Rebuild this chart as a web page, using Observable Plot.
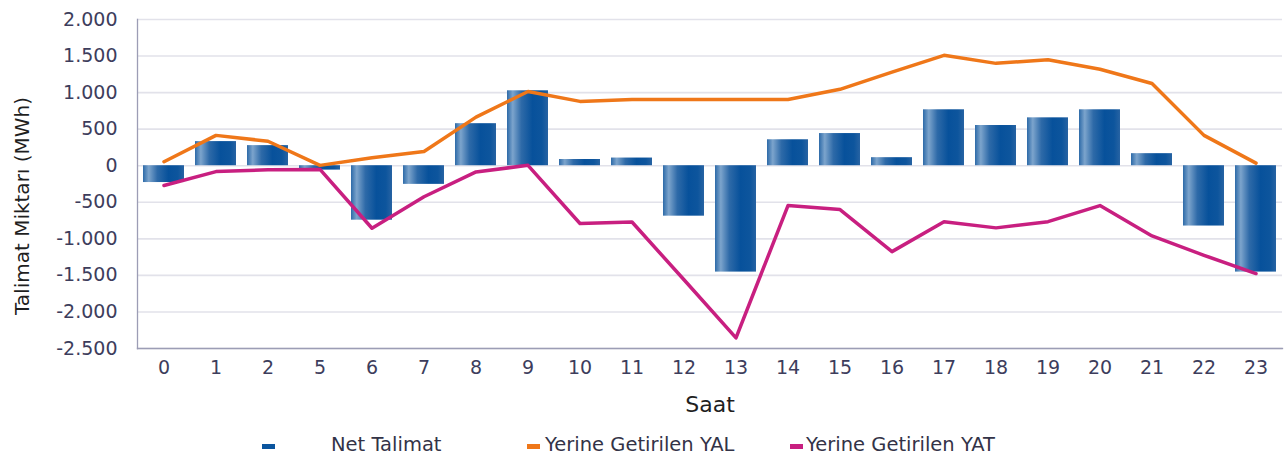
<!DOCTYPE html>
<html>
<head>
<meta charset="utf-8">
<script src="https://cdn.jsdelivr.net/npm/d3@7"></script>
<script src="https://cdn.jsdelivr.net/npm/@observablehq/plot@0.6"></script>
<style>
  body { margin: 0; background: #fff; font-family: "DejaVu Sans", sans-serif; }
  #wrap { position: relative; width: 1285px; height: 460px; overflow: hidden; }
  #legend { position: absolute; left: 0; top: 425px; width: 1285px; height: 35px; font-size: 19.5px; color: #333347; }
  .sw { position: absolute; width: 13px; height: 5px; top: 19px; }
  .lt { position: absolute; top: 8px; white-space: nowrap; }
</style>
</head>
<body>
<div id="wrap">
  <div id="chart"></div>
  <div id="legend"></div>
</div>
<script>
const hours = ["0","1","2","5","6","7","8","9","10","11","12","13","14","15","16","17","18","19","20","21","22","23"];
const netTalimat = [-230, 330, 275, -60, -745, -255, 575, 1025, 85, 105, -690, -1455, 355, 440, 110, 765, 550, 655, 765, 165, -825, -1455];
const yerineYAL = [55, 415, 335, 5, 110, 195, 665, 1015, 880, 905, 905, 905, 905, 1045, 1280, 1510, 1400, 1450, 1320, 1125, 415, 35];
const yerineYAT = [-270, -80, -55, -50, -855, -425, -85, 5, -790, -770, -1560, -2355, -545, -600, -1175, -765, -850, -765, -545, -960, -1225, -1475];
const yTicks = [-2500, -2000, -1500, -1000, -500, 0, 500, 1000, 1500, 2000];
const legendItems = [
  {label: "Net Talimat", color: "#0b559e"},
  {label: "Yerine Getirilen YAL", color: "#ef7719"},
  {label: "Yerine Getirilen YAT", color: "#c81f80"}
];

const data = hours.map((h, i) => ({hour: h, net: netTalimat[i], yal: yerineYAL[i], yat: yerineYAT[i]}));
const fmt = d3.formatLocale({decimal: ",", thousands: ".", grouping: [3], currency: ["", ""], minus: "-"}).format(",");

const chart = Plot.plot({
  width: 1285,
  height: 425,
  marginTop: 19,
  marginBottom: 77,
  marginLeft: 137,
  marginRight: 3,
  style: {fontFamily: "DejaVu Sans, sans-serif", fontSize: "19px", color: "#3d3d5c", background: "white"},
  x: {type: "band", domain: hours, paddingInner: 0.21, paddingOuter: 0, label: null},
  y: {domain: [-2500, 2000], label: null},
  marks: [
    Plot.gridY(yTicks, {stroke: "#e2e2ea", strokeOpacity: 1, strokeWidth: 1.6}),
    Plot.barY(data, {x: "hour", y: "net", fill: "url(#barGrad)"}),
    Plot.frame({anchor: "left", stroke: "#9c9db5", strokeWidth: 1.3}),
    Plot.frame({anchor: "bottom", stroke: "#9c9db5", strokeWidth: 1.3}),
    Plot.lineY(data, {x: "hour", y: "yal", stroke: "#ef7719", strokeWidth: 3.5}),
    Plot.lineY(data, {x: "hour", y: "yat", stroke: "#c81f80", strokeWidth: 3.5}),
    Plot.axisY(yTicks, {tickSize: 0, tickPadding: 20, tickFormat: fmt, label: null}),
    Plot.axisX({tickSize: 0, tickPadding: 12, label: null}),
    Plot.text(["Talimat Miktarı (MWh)"], {frameAnchor: "left", textAnchor: "middle", dx: -115, dy: 22, rotate: -90, fontSize: 20, fill: "#1f1f1f"}),
    Plot.text(["Saat"], {frameAnchor: "bottom", textAnchor: "middle", dx: 0, dy: 63, fontSize: 22, fill: "#1f1f1f"})
  ]
});

// gradient definition for the bars
const ns = "http://www.w3.org/2000/svg";
const defs = document.createElementNS(ns, "defs");
const grad = document.createElementNS(ns, "linearGradient");
grad.setAttribute("id", "barGrad");
grad.setAttribute("x1", "0"); grad.setAttribute("x2", "1");
grad.setAttribute("y1", "0"); grad.setAttribute("y2", "0");
[["0%", "#2d6aa8"], ["14%", "#7ca4cc"], ["35%", "#2e6aa8"], ["62%", "#07519b"], ["85%", "#0d559d"], ["100%", "#2763a3"]].forEach(([o, c]) => {
  const s = document.createElementNS(ns, "stop");
  s.setAttribute("offset", o); s.setAttribute("stop-color", c);
  grad.appendChild(s);
});
defs.appendChild(grad);
chart.insertBefore(defs, chart.firstChild);
document.getElementById("chart").appendChild(chart);

// legend
const legend = document.getElementById("legend");
const pos = [{sw: 262, tx: 331}, {sw: 527, tx: 545}, {sw: 790, tx: 806}];
legendItems.forEach((it, i) => {
  const sw = document.createElement("div");
  sw.className = "sw"; sw.style.left = pos[i].sw + "px"; sw.style.background = it.color;
  const t = document.createElement("div");
  t.className = "lt"; t.style.left = pos[i].tx + "px"; t.textContent = it.label;
  legend.appendChild(sw); legend.appendChild(t);
});
</script>
</body>
</html>
